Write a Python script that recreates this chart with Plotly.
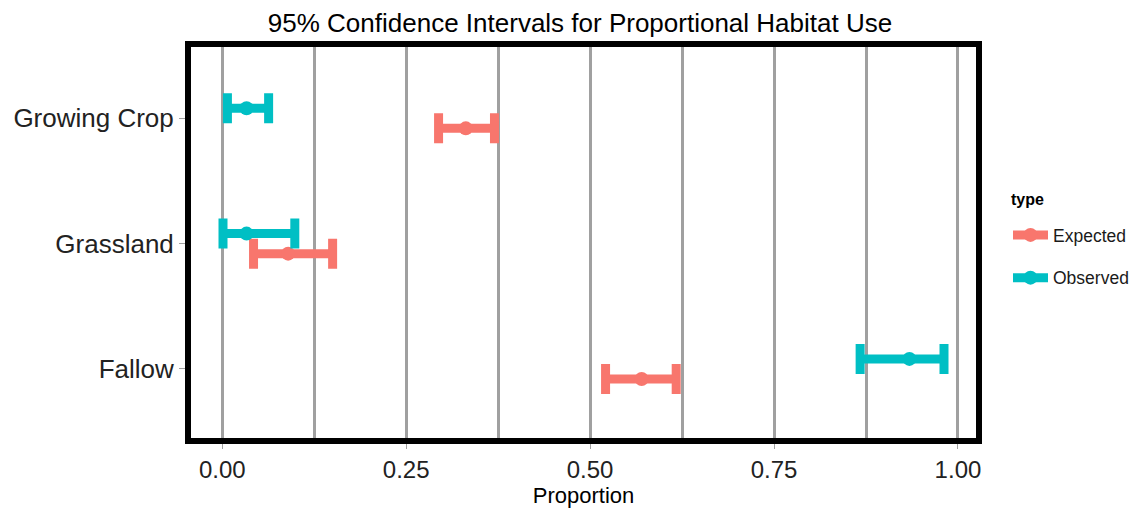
import plotly.graph_objects as go

categories = ["Fallow", "Grassland", "Growing Crop"]
types = ["Expected", "Observed"]
colors = {"Expected": "#F8766D", "Observed": "#00BFC4"}

expected_mid = [0.570, 0.0895, 0.331]
expected_lo = [0.521, 0.0425, 0.294]
expected_hi = [0.617, 0.150, 0.370]

observed_mid = [0.934, 0.033, 0.033]
observed_lo = [0.867, 0.001, 0.007]
observed_hi = [0.981, 0.0986, 0.063]

series = {
    "Expected": (expected_mid, expected_lo, expected_hi),
    "Observed": (observed_mid, observed_lo, observed_hi),
}
dodge = {"Expected": -0.08, "Observed": 0.08}

W, H = 1141, 512
OFF = 8  # default page body margin of the html page
# plot-area inner edges in page pixels
PX0, PX1, PY0, PY1 = 191, 976, 47, 438
L = PX0 - OFF
T = PY0 - OFF
pw = PX1 - PX0
ph = PY1 - PY0
R = W - L - pw
B = H - T - ph


def px(xp):
    return (xp - PX0) / pw


def py(yp):
    return (PY1 - yp) / ph


fig = go.Figure()
for t in types:
    mid, lo, hi = series[t]
    ys = [i + 1 + dodge[t] for i in range(len(categories))]
    fig.add_trace(go.Scatter(
        x=mid, y=ys, mode="markers",
        marker=dict(color=colors[t], size=14),
        error_x=dict(type="data", symmetric=False,
                     array=[h - m for h, m in zip(hi, mid)],
                     arrayminus=[m - l for m, l in zip(mid, lo)],
                     color=colors[t], thickness=9, width=15),
        showlegend=False, hoverinfo="skip",
    ))
for t in types:
    fig.add_trace(go.Scatter(
        x=[None], y=[None], mode="lines+markers", name=t,
        line=dict(color=colors[t], width=9),
        marker=dict(color=colors[t], size=14),
        legendgroup=t,
    ))

fig.update_layout(
    width=W, height=H,
    margin=dict(l=L, r=R, t=T, b=B, autoexpand=False),
    paper_bgcolor="white", plot_bgcolor="white",
    font=dict(family="Liberation Sans, Arial, sans-serif", color="black"),
    title=dict(text="95% Confidence Intervals for Proportional Habitat Use",
               x=px(580), xref="paper", xanchor="center",
               y=1 - (23 - OFF) / H, yanchor="middle",
               font=dict(size=26, color="black")),
    legend=dict(x=px(1008), xanchor="left",
                y=py(217), yanchor="top",
                font=dict(size=17.5, color="#1a1a1a"),
                tracegroupgap=17, itemwidth=35),
    annotations=[dict(text="<b>type</b>", xref="paper", yref="paper",
                      x=px(1009), xanchor="left",
                      y=py(199), yanchor="middle",
                      showarrow=False, font=dict(size=16, color="black"))],
)
fig.update_xaxes(
    range=[-0.0425, 1.0245], tickvals=[0, 0.25, 0.5, 0.75, 1.0],
    ticktext=["0.00", "0.25", "0.50", "0.75", "1.00"],
    showgrid=True, gridcolor="#A0A0A0", gridwidth=3,
    minor=dict(tickvals=[0.125, 0.375, 0.625, 0.875], showgrid=True,
               gridcolor="#A0A0A0", gridwidth=3),
    ticks="outside", ticklen=5, tickcolor="#A0A0A0", tickwidth=1,
    tickfont=dict(size=24, color="#222222"),
    title=dict(text="Proportion", font=dict(size=22), standoff=6),
    showline=True, mirror=True, linecolor="black", linewidth=6,
    zeroline=False, automargin=False,
)
fig.update_yaxes(
    range=[0.449, 3.569], tickvals=[1, 2, 3], ticktext=categories,
    showgrid=False, zeroline=False,
    ticks="outside", ticklen=6, tickcolor="#A0A0A0", tickwidth=1,
    tickfont=dict(size=26, color="#222222"),
    showline=True, mirror=True, linecolor="black", linewidth=6,
    automargin=False,
)

fig.write_html("out.html")
